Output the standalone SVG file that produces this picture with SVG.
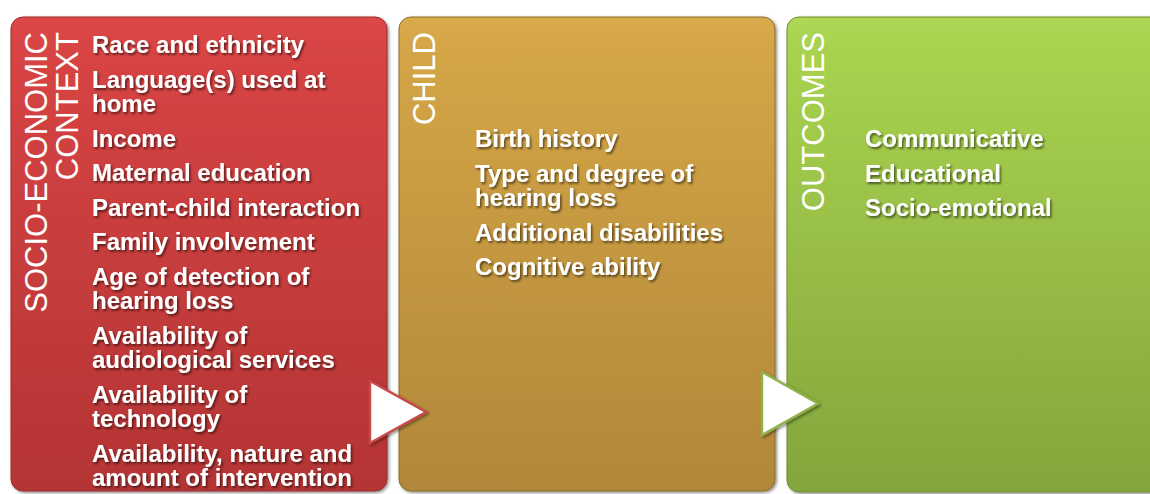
<svg xmlns="http://www.w3.org/2000/svg" width="1150" height="494" viewBox="0 0 1150 494">
  <defs>
    <linearGradient id="gRed" x1="0" y1="0" x2="0" y2="1">
      <stop offset="0" stop-color="#dc4848"/>
      <stop offset="0.06" stop-color="#d84444"/>
      <stop offset="1" stop-color="#b43434"/>
    </linearGradient>
    <linearGradient id="gGold" x1="0" y1="0" x2="0" y2="1">
      <stop offset="0" stop-color="#d9ab4a"/>
      <stop offset="0.06" stop-color="#d4a646"/>
      <stop offset="1" stop-color="#b1873a"/>
    </linearGradient>
    <linearGradient id="gGreen" x1="0" y1="0" x2="0" y2="1">
      <stop offset="0" stop-color="#aed855"/>
      <stop offset="0.06" stop-color="#a8d34f"/>
      <stop offset="1" stop-color="#84a53c"/>
    </linearGradient>
    <filter id="ts" x="-5%" y="-30%" width="115%" height="170%">
      <feDropShadow dx="1.5" dy="2" stdDeviation="1.2" flood-color="#000" flood-opacity="0.55"/>
    </filter>
    <filter id="bs" x="-5%" y="-5%" width="112%" height="112%">
      <feDropShadow dx="1.5" dy="1.5" stdDeviation="1.5" flood-color="#000" flood-opacity="0.45"/>
    </filter>
  </defs>
  <style>
    .box { stroke-width: 1; }
    .title { font-family: "Liberation Sans", Arial, sans-serif; font-size: 31px; fill: #ffffff; text-anchor: end; }
    .item { font-family: "Liberation Sans", Arial, sans-serif; font-size: 24px; font-weight: bold; fill: #ffffff; filter: url(#ts); }
    .tri { fill: #ffffff; stroke-width: 2.5; stroke-linejoin: miter; filter: url(#bs); }
  </style>
  <rect width="1150" height="494" fill="#ffffff"/>

  <g id="socio-economic-context">
    <rect class="box" x="11" y="17" width="376" height="474" rx="12" fill="url(#gRed)" stroke="#9c2c2c" filter="url(#bs)"/>
    <text class="title" transform="translate(47,32) rotate(-90)">SOCIO-ECONOMIC</text>
    <text class="title" transform="translate(78,32) rotate(-90)">CONTEXT</text>
    <text class="item" x="92" y="53">Race and ethnicity</text>
    <text class="item" x="92" y="87.5">Language(s) used at</text>
    <text class="item" x="92" y="112">home</text>
    <text class="item" x="92" y="146.5">Income</text>
    <text class="item" x="92" y="181">Maternal education</text>
    <text class="item" x="92" y="215.5">Parent-child interaction</text>
    <text class="item" x="92" y="250">Family involvement</text>
    <text class="item" x="92" y="284.5">Age of detection of</text>
    <text class="item" x="92" y="309">hearing loss</text>
    <text class="item" x="92" y="343.5">Availability of</text>
    <text class="item" x="92" y="368">audiological services</text>
    <text class="item" x="92" y="402.5">Availability of</text>
    <text class="item" x="92" y="427">technology</text>
    <text class="item" x="92" y="461.5">Availability, nature and</text>
    <text class="item" x="92" y="486">amount of intervention</text>
  </g>

  <g id="child">
    <rect class="box" x="399" y="17" width="376" height="474" rx="12" fill="url(#gGold)" stroke="#8f6c2c" filter="url(#bs)"/>
    <text class="title" transform="translate(435,32) rotate(-90)">CHILD</text>
    <text class="item" x="475" y="147">Birth history</text>
    <text class="item" x="475" y="181.5">Type and degree of</text>
    <text class="item" x="475" y="206">hearing loss</text>
    <text class="item" x="475" y="240.5">Additional disabilities</text>
    <text class="item" x="475" y="275">Cognitive ability</text>
  </g>

  <g id="outcomes">
    <rect class="box" x="787" y="17" width="376" height="475" rx="12" fill="url(#gGreen)" stroke="#6f8c30" filter="url(#bs)"/>
    <text class="title" transform="translate(824,32) rotate(-90)">OUTCOMES</text>
    <text class="item" x="865" y="147">Communicative</text>
    <text class="item" x="865" y="181.5">Educational</text>
    <text class="item" x="865" y="216">Socio-emotional</text>
  </g>

  <g id="connectors">
    <polygon class="tri" points="370,381 426,412 370,443" stroke="#c94a4a"/>
    <polygon class="tri" points="762,372 818,403.5 762,435" stroke="#8fb24a"/>
  </g>
</svg>
